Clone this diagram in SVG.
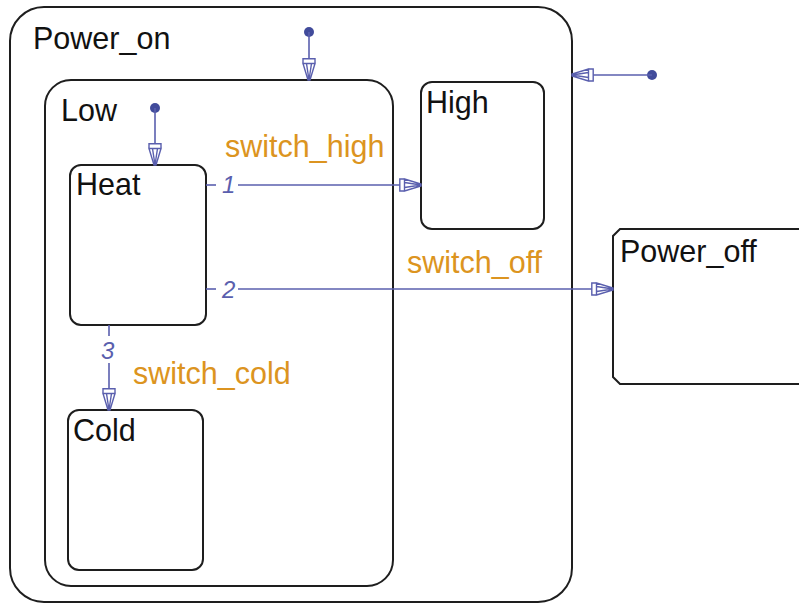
<svg xmlns="http://www.w3.org/2000/svg" width="799" height="603" viewBox="0 0 799 603">
<defs>
<style>
.state{fill:none;stroke:#1e1e1e;stroke-width:2}
.name{font-family:"Liberation Sans",Arial,sans-serif;font-size:30.5px;fill:#111}
.lbl{font-family:"Liberation Sans",Arial,sans-serif;font-size:30.5px;fill:#dc9420}
.num{font-family:"Liberation Sans",Arial,sans-serif;font-size:24px;font-style:italic;fill:#5a5fae}
.tr{fill:none;stroke:#5a5fae;stroke-width:1.6}
.dot{fill:#414b9b}
</style>
<marker id="ah" viewBox="0 -7 23 14" refX="22" refY="0" markerWidth="23" markerHeight="14" markerUnits="userSpaceOnUse" orient="auto">
<path d="M0.8,-6 H5.5 V6 H0.8 Z M5.5,-6 L22,-1 L22,1 L5.5,6 Z M5.5,-2.5 L22,0 M5.5,2.5 L22,0" fill="#fff" stroke="#5a5fae" stroke-width="1.4"/>
</marker>
</defs>
<rect width="799" height="603" fill="#fff"/>
<g id="Power_on">
<rect class="state" x="10" y="7" width="562" height="595" rx="34"/>
<text class="name" x="33" y="49">Power_on</text>
</g>
<g id="Low">
<rect class="state" x="45" y="80" width="348" height="506" rx="26"/>
<text class="name" x="61" y="121">Low</text>
</g>
<g id="Heat">
<rect class="state" x="70" y="165" width="136" height="160" rx="11"/>
<text class="name" x="76" y="195">Heat</text>
</g>
<g id="Cold">
<rect class="state" x="68" y="410" width="135" height="160" rx="11"/>
<text class="name" x="73" y="441">Cold</text>
</g>
<g id="High">
<rect class="state" x="421" y="82" width="123" height="147" rx="11"/>
<text class="name" x="426" y="113">High</text>
</g>
<g id="Power_off">
<path class="state" d="M620,229 H806 V384 H620 L613,377 V236 Z"/>
<text class="name" x="620" y="262">Power_off</text>
</g>
<g id="connectors">
<circle class="dot" cx="309" cy="32" r="5"/>
<path class="tr" d="M309,32 V80" marker-end="url(#ah)"/>
<circle class="dot" cx="652" cy="75" r="5"/>
<path class="tr" d="M652,75 H572" marker-end="url(#ah)"/>
<circle class="dot" cx="155" cy="108" r="5"/>
<path class="tr" d="M155,108 V165" marker-end="url(#ah)"/>
<path class="tr" d="M206,185 H216"/>
<path class="tr" d="M238,185 H421" marker-end="url(#ah)"/>
<text class="num" x="222" y="193">1</text>
<path class="tr" d="M206,289 H216"/>
<path class="tr" d="M238,289 H613" marker-end="url(#ah)"/>
<text class="num" x="222" y="298">2</text>
<path class="tr" d="M109,325 V336"/>
<path class="tr" d="M109,363 V410" marker-end="url(#ah)"/>
<text class="num" x="101" y="359">3</text>
<text class="lbl" x="225" y="157">switch_high</text>
<text class="lbl" x="407" y="273">switch_off</text>
<text class="lbl" x="133" y="384">switch_cold</text>
</g>
</svg>
